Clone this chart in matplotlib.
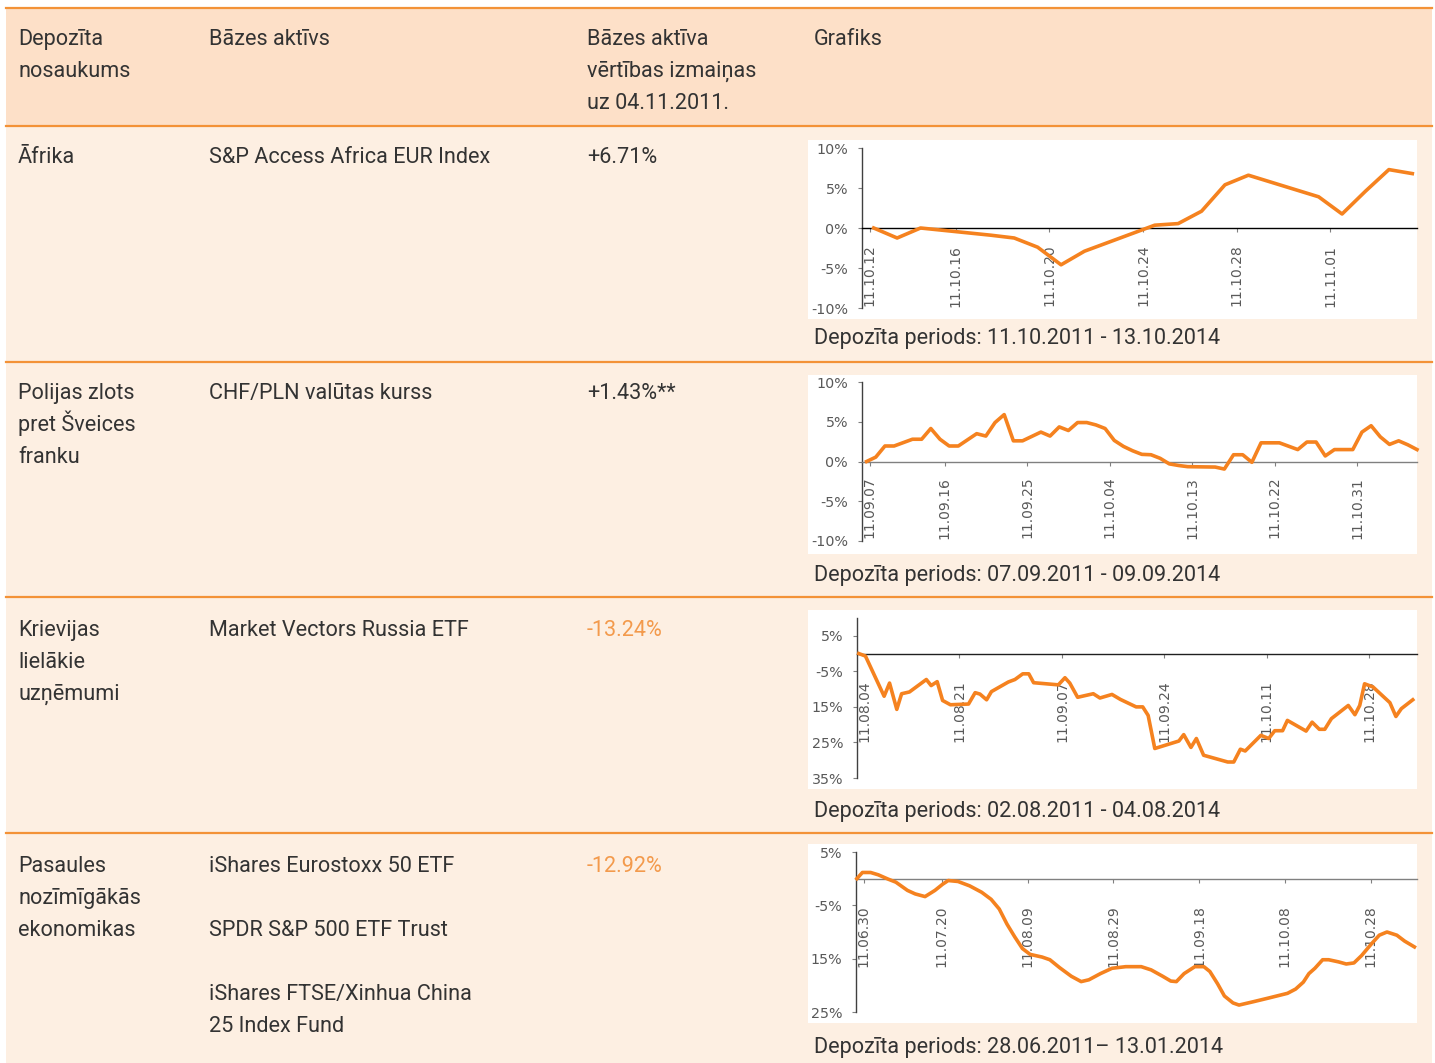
import matplotlib
matplotlib.use("Agg")
import matplotlib.pyplot as plt
from matplotlib.patches import Rectangle

plt.rcParams['font.family'] = ['Roboto', 'DejaVu Sans']

# ---- table text ----
header = ["Depozīta\nnosaukums", "Bāzes aktīvs", "Bāzes aktīva\nvērtības izmaiņas\nuz 04.11.2011.", "Grafiks"]
names = ["Āfrika", "Polijas zlots\npret Šveices\nfranku", "Krievijas\nlielākie\nuzņēmumi",
         "Pasaules\nnozīmīgākās\nekonomikas"]
assets = ["S&P Access Africa EUR Index", "CHF/PLN valūtas kurss", "Market Vectors Russia ETF",
          "iShares Eurostoxx 50 ETF\n\nSPDR S&P 500 ETF Trust\n\niShares FTSE/Xinhua China\n25 Index Fund"]
changes = ["+6.71%", "+1.43%**", "-13.24%", "-12.92%"]
periods = ["Depozīta periods: 11.10.2011 - 13.10.2014", "Depozīta periods: 07.09.2011 - 09.09.2014",
           "Depozīta periods: 02.08.2011 - 04.08.2014", "Depozīta periods: 28.06.2011– 13.01.2014"]

# ---- chart 1: Africa (trading days from 11.10.12) ----
afr_days = [0, 1, 2, 5, 6, 7, 8, 9, 12, 13, 14, 15, 16, 19, 20, 21, 22, 23]
afr_vals = [0, -1.25, 0, -0.9, -1.25, -2.4, -4.6, -2.9, 0.35, 0.55, 2.1, 5.4, 6.6, 3.9, 1.75, 4.6, 7.3, 6.8]
afr_ticks = [0, 4, 8, 12, 16, 20]
afr_labels = ["11.10.12", "11.10.16", "11.10.20", "11.10.24", "11.10.28", "11.11.01"]

# ---- chart 2: CHF/PLN (days from 11.09.07) ----
pln_days = [0, 1, 2, 3, 5, 6, 7, 8, 9, 10, 12, 13, 14, 15, 16, 17, 19, 20, 21, 22, 23, 24, 25, 26,
            27, 28, 29, 30, 31, 32, 33, 34, 35, 38, 39, 40, 41, 42, 43, 45, 47, 48, 49, 50, 51,
            53, 54, 55, 56, 57, 58, 59, 60]
pln_vals = [0, 0.55, 1.95, 1.95, 2.8, 2.8, 4.15, 2.8, 1.95, 1.95, 3.5, 3.2, 4.9, 5.9, 2.6, 2.6,
            3.7, 3.2, 4.35, 3.9, 4.9, 4.9, 4.6, 4.15, 2.65, 1.9, 1.35, 0.9, 0.85, 0.4, -0.3, -0.5,
            -0.65, -0.7, -0.95, 0.85, 0.85, -0.1, 2.35, 2.35, 1.5, 2.45, 2.45, 0.7, 1.5, 1.5,
            3.7, 4.5, 3.1, 2.15, 2.6, 2.1, 1.5]
pln_ticks = [0, 9, 18, 27, 36, 45, 54]
pln_labels = ["11.09.07", "11.09.16", "11.09.25", "11.10.04", "11.10.13", "11.10.22", "11.10.31"]

# ---- chart 3: Russia ETF (days from 11.08.04) ----
rus_days = [0.3, 1.4, 4.5, 5.4, 6.6, 7.4, 8.7, 11.5, 12.3, 13.3, 14.2, 15.5, 18.5, 19.6, 20.4,
            21.5, 22.3, 25.1, 26.2, 27.5, 28.5, 29.3, 33.4, 34.5, 35.3, 36.6, 39.2, 40.3, 42.3,
            43.7, 46.3, 47.4, 48.3, 49.4, 53.4, 54.2, 55.4, 56.3, 57.5, 61.5, 62.5, 63.6, 64.4,
            67.0, 68.3, 69.3, 70.6, 71.4, 74.5, 75.5, 76.7, 77.6, 78.7, 81.5, 82.6, 83.4, 84.2,
            85.6, 88.4, 89.4, 90.3, 92.2]
rus_vals = [0, -0.7, -12, -8.3, -15.7, -11.3, -10.8, -7.3, -9.0, -7.9, -13.2, -14.4, -14.2, -11.0,
            -11.4, -13.0, -10.7, -8.0, -7.3, -5.7, -5.7, -8.2, -8.8, -6.8, -8.3, -12.3, -11.3,
            -12.5, -11.5, -12.9, -15.0, -15.0, -17.4, -26.7, -24.6, -22.8, -26.4, -23.9, -28.6,
            -30.5, -30.5, -26.9, -27.4, -23.0, -23.9, -21.7, -21.7, -18.8, -21.8, -19.3, -21.3,
            -21.3, -18.3, -14.6, -17.2, -14.6, -8.5, -9.4, -13.8, -17.7, -15.5, -13.0]
rus_ticks = [0, 17, 34, 51, 68, 85]
rus_labels = ["11.08.04", "11.08.21", "11.09.07", "11.09.24", "11.10.11", "11.10.28"]

# ---- chart 4: world basket (days from 11.06.30) ----
wld_days = [0.2, 1.5, 3.4, 5.2, 7.5, 9.3, 12, 13.8, 16.1, 18.4, 20.2, 21.5, 23.8, 26.5, 29.3, 31.5,
            33.4, 35.2, 37, 38.8, 40.6, 43.4, 45.2, 47.5, 50.2, 52.5, 54.3, 57, 59.7, 62.9, 66.5,
            68.8, 71.5, 73.4, 74.7, 76.5, 79, 81.1, 82.5, 84.3, 85.9, 87.9, 89.3, 92.5, 96.1,
            100.6, 102.5, 104.3, 105.6, 107, 108.8, 110.2, 112.5, 114.3, 116.1, 117.9, 120.2,
            122, 123.8, 126.1, 127.9, 130.2]
wld_vals = [0, 1.16, 1.16, 0.72, -0.09, -0.66, -2.2, -2.86, -3.36, -2.2, -1.04, -0.35, -0.53,
            -1.35, -2.55, -3.87, -5.69, -8.52, -10.9, -13.1, -14.2, -14.7, -15.2, -16.7, -18.3,
            -19.3, -18.96, -17.8, -16.8, -16.5, -16.5, -17.1, -18.3, -19.2, -19.3, -17.8, -16.5,
            -16.5, -17.4, -19.7, -22.0, -23.3, -23.7, -23.1, -22.4, -21.5, -20.7, -19.4, -17.8,
            -16.8, -15.2, -15.2, -15.6, -16.0, -15.8, -14.4, -12.2, -10.6, -10.0, -10.6, -11.7,
            -12.8]
wld_ticks = [0, 20, 40, 60, 80, 100, 120]
wld_labels = ["11.06.30", "11.07.20", "11.08.09", "11.08.29", "11.09.18", "11.10.08", "11.10.28"]

W, H = 1435, 1063
HEAD_BG = '#fde0c8'
ROW_BG = '#fdefe2'
RULE = '#f39237'
LINE = '#f5821f'
TXT = '#333333'
AX_TXT = '#595959'

fig = plt.figure(figsize=(W / 100, H / 100), dpi=100)
bg = fig.add_axes([0, 0, 1, 1])
bg.set_xlim(0, W)
bg.set_ylim(H, 0)
bg.axis('off')

bg.add_patch(Rectangle((6, 8), 1426, 118, color=HEAD_BG, lw=0))
bg.add_patch(Rectangle((6, 126), 1426, H - 126, color=ROW_BG, lw=0))
for y in [8, 126, 362, 597, 833]:
    bg.plot([6, 1432], [y, y], color=RULE, lw=1.6)

boxes = [(140, 319), (375, 554), (610, 789), (844, 1023)]
for top, bot in boxes:
    bg.add_patch(Rectangle((808, top), 1417 - 808, bot - top, color='white', lw=0))


def put(x, y, s, color=TXT, size=15.6):
    for i, line in enumerate(s.split("\n")):
        bg.text(x, y + i * 32, line, fontsize=size, color=color, va='baseline', ha='left')


cols = [18, 209, 587, 814]
for c, s in zip(cols, header):
    put(c, 45, s)

row_base = [163, 399, 636, 872]
period_base = [344, 581, 817, 1053]
for i in range(4):
    put(cols[0], row_base[i], names[i])
    put(cols[1], row_base[i], assets[i])
    put(cols[2], row_base[i], changes[i], color=TXT if changes[i].startswith('+') else '#f39a4c')
    put(cols[3], period_base[i], periods[i])


def mini_chart(left, top, right, bottom, days, vals, shift, xmax, ylim, yticks, ylabels,
               ticks, labels, zero_color, xpad):
    ax = fig.add_axes([left / W, 1 - bottom / H, (right - left) / W, (bottom - top) / H])
    ax.patch.set_alpha(0)
    ax.plot([d + shift for d in days], vals, color=LINE, lw=2.6, solid_joinstyle='round',
            clip_on=False, zorder=3)
    ax.set_xlim(0, xmax)
    ax.set_ylim(*ylim)
    ax.spines['top'].set_visible(False)
    ax.spines['right'].set_visible(False)
    ax.spines['left'].set_color('#404040')
    ax.spines['bottom'].set_position(('data', 0))
    ax.spines['bottom'].set_color(zero_color)
    ax.spines['left'].set_linewidth(1.0)
    ax.spines['bottom'].set_linewidth(1.0)
    ax.set_yticks(yticks)
    ax.set_yticklabels(ylabels, family='DejaVu Sans', fontsize=10.3, color=AX_TXT)
    ax.tick_params(axis='y', direction='out', length=3, width=0.8, color='#808080', pad=7)
    pos = list(ticks)
    pos[0] = pos[0] + xmax * 0.014
    ax.set_xticks(pos)
    ax.set_xticklabels(labels, rotation=90, family='DejaVu Sans', fontsize=10, color=AX_TXT)
    ax.tick_params(axis='x', direction='out', length=3, width=0.8, color='#808080', pad=xpad)
    return ax


mini_chart(862, 148, 1417, 308, afr_days, afr_vals, 0.5, 23.7, (-10, 10),
           [-10, -5, 0, 5, 10], ["-10%", "-5%", "0%", "5%", "10%"],
           afr_ticks, afr_labels, '#000000', 9)
mini_chart(862, 382, 1417, 541, pln_days, pln_vals, 0.5, 60.5, (-10, 10),
           [-10, -5, 0, 5, 10], ["-10%", "-5%", "0%", "5%", "10%"],
           pln_ticks, pln_labels, '#808080', 8)
mini_chart(857, 618, 1417, 778, rus_days, rus_vals, 0, 92.9, (-35, 10),
           [-35, -25, -15, -5, 5], ["35%", "25%", "15%", "-5%", "5%"],
           rus_ticks, rus_labels, '#202020', 16)
mini_chart(856, 852, 1417, 1012, wld_days, wld_vals, 0, 130.8, (-25, 5),
           [-25, -15, -5, 5], ["25%", "15%", "-5%", "5%"],
           wld_ticks, wld_labels, '#808080', 16)

fig.savefig("out.png", dpi=100)
